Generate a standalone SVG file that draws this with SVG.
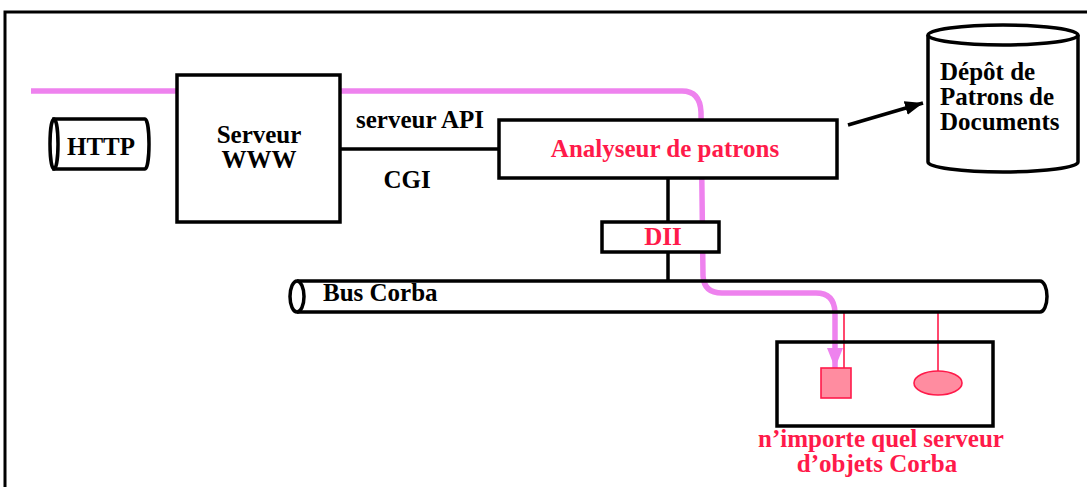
<svg xmlns="http://www.w3.org/2000/svg" width="1087" height="487" viewBox="0 0 1087 487">
<style>
.box{fill:#fff;stroke:#000;stroke-width:3.5}
.ln{fill:none;stroke:#000;stroke-width:3.5}
.t{font-family:"Liberation Serif","Times New Roman",serif;font-weight:bold;font-size:25px;fill:#000}
.r{fill:#ff1a4a}
.red{stroke:#ff1a4a;stroke-width:1.6;fill:none}
.obj{fill:#ff8ca0;stroke:#ff1a4a;stroke-width:1.6}
</style>
<defs>
<marker id="ah" markerUnits="userSpaceOnUse" markerWidth="20" markerHeight="20" refX="18" refY="7" orient="auto">
<path d="M0,0 L18,7 L0,14 Z" fill="#000"/>
</marker>
<marker id="ph" markerUnits="userSpaceOnUse" markerWidth="22" markerHeight="22" refX="20" refY="8" orient="auto">
<path d="M0,0 L20,8 L0,16 Z" fill="#ee82ee"/>
</marker>
</defs>
<rect width="1087" height="487" fill="#fff"/>
<path d="M5,487 V12 H1087" fill="none" stroke="#000" stroke-width="3"/>
<g id="connectors">
<path id="flow" d="M31,91 H682 Q700,91 701,112 L703,276 Q704,293 722,293 H816 Q834,293 835,312 L835,368" fill="none" stroke="#ee82ee" stroke-width="5.5" marker-end="url(#ph)"/>
<line class="ln" x1="340" y1="149" x2="499" y2="149"/>
<line class="ln" x1="668" y1="178" x2="668" y2="222"/>
<line class="ln" x1="668" y1="252" x2="668" y2="281"/>
<line class="ln" x1="848" y1="125" x2="923" y2="103" marker-end="url(#ah)"/>
<line class="red" x1="844" y1="313" x2="844" y2="368"/>
<line class="red" x1="938" y1="313" x2="938" y2="371"/>
</g>
<g id="http">
<path class="box" d="M54,119 H145 A4,25 0 0 1 145,169 H54 Z"/>
<ellipse cx="54" cy="144" rx="4" ry="25" class="box"/>
<text class="t" x="67" y="155">HTTP</text>
</g>
<g id="serveur-www">
<rect class="box" x="177" y="75" width="163" height="147"/>
<text class="t" x="259" y="143" text-anchor="middle">Serveur</text>
<text class="t" x="259" y="168" text-anchor="middle">WWW</text>
</g>
<g id="labels">
<text class="t" x="420" y="128" text-anchor="middle">serveur API</text>
<text class="t" x="407" y="188" text-anchor="middle">CGI</text>
</g>
<g id="analyseur">
<rect class="box" x="499" y="120" width="338" height="58"/>
<text class="t r" x="665" y="157" text-anchor="middle">Analyseur de patrons</text>
</g>
<g id="dii">
<rect class="box" x="602" y="222" width="117" height="30"/>
<text class="t r" x="663" y="245" text-anchor="middle">DII</text>
</g>
<g id="bus">
<path class="ln" d="M297,281 H1040 A7,15.5 0 0 1 1040,312 H297"/>
<ellipse cx="297" cy="296.5" rx="7" ry="15.5" class="box"/>
<text class="t" x="323" y="301">Bus Corba</text>
</g>
<g id="depot">
<path class="box" d="M928,35 V162 A75,10 0 0 0 1078,162 V35"/>
<ellipse cx="1003" cy="35" rx="75" ry="10" class="box"/>
<text class="t" x="940" y="80">Dépôt de</text>
<text class="t" x="940" y="105">Patrons de</text>
<text class="t" x="940" y="130">Documents</text>
</g>
<g id="serveur-objets">
<rect class="ln" x="777" y="342" width="216" height="84"/>
<rect class="obj" x="821" y="368" width="30" height="30"/>
<ellipse class="obj" cx="938" cy="383" rx="24" ry="12"/>
<text class="t r" x="881" y="447" text-anchor="middle">n’importe quel serveur</text>
<text class="t r" x="877" y="472" text-anchor="middle">d’objets Corba</text>
</g>
</svg>
